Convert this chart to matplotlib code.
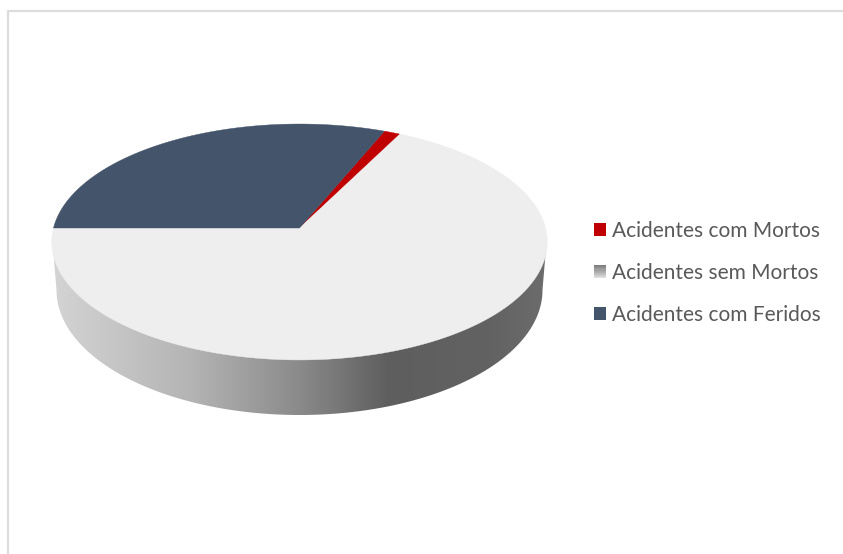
import numpy as np
import matplotlib
matplotlib.use("Agg")
import matplotlib.pyplot as plt
from matplotlib.colors import LinearSegmentedColormap
from matplotlib.legend_handler import HandlerPatch
from matplotlib.patches import Patch, Polygon, Rectangle

plt.rcParams["font.family"] = ["Lato", "DejaVu Sans"]

# Share of accidents by outcome (percent), clockwise from the first slice
categories = ["Acidentes com Mortos", "Acidentes sem Mortos", "Acidentes com Feridos"]
shares = [1.2, 67.55, 31.25]
first_slice_angle = 22.5

top_colors = ["#c00000", "#eeeeee", "#44546a"]
legend_colors = ["#c00000", "#8c8c8c", "#44546a"]
wall_stops = [(0.0, "#d4d4d4"), (0.28, "#b4b4b4"), (0.5, "#8a8a8a"),
              (0.68, "#5e5e5e"), (0.88, "#626262"), (1.0, "#6c6c6c")]

# Perspective of the disc: apex position, radii and foreshortening
APEX_X, APEX_Y = 299.5, 228.0
RADIUS_X, RADIUS_Y, TILT = 246.0, 116.3, 0.1186
# Lower rim of the side wall, as a plain ellipse
RIM_X, RIM_Y, RIM_RX, RIM_RY = 299.5, 290.0, 243.0, 125.0


def project(theta_deg):
    """Map clockwise-from-north angles on the unit circle to the tilted disc."""
    t = np.radians(np.asarray(theta_deg, dtype=float))
    x, y = np.sin(t), np.cos(t)
    d = 1 + TILT * y
    return APEX_X + RADIUS_X * x / d, APEX_Y - RADIUS_Y * y / d


class GradientSwatch(HandlerPatch):
    """Legend key shaded from dark at the top to light at the bottom."""

    def create_artists(self, legend, orig_handle, xdescent, ydescent,
                       width, height, fontsize, trans):
        steps = 12
        shade = LinearSegmentedColormap.from_list("key", ["#7c7c7c", "#dedede"])
        out = []
        for i in range(steps):
            out.append(Rectangle((-xdescent, -ydescent + height * (steps - 1 - i) / steps),
                                 width, height / steps * 1.05,
                                 facecolor=shade(i / (steps - 1)), edgecolor="none",
                                 transform=trans))
        return out


fig = plt.figure(figsize=(8.43, 5.54), dpi=100)
ax = fig.add_axes([0, 0, 1, 1])

# Side wall: horizontal gradient clipped to the band under the disc
wall_cmap = LinearSegmentedColormap.from_list("wall", wall_stops)
rim = np.radians(np.linspace(180, 360, 240))
rim_x = RIM_X + RIM_RX * np.cos(rim)
rim_y = RIM_Y - RIM_RY * np.sin(rim)
wall_outline = np.vstack([[[APEX_X - 247, 242]], np.column_stack([rim_x, rim_y]),
                          [[APEX_X + 247, 242]]])
wall_clip = Polygon(wall_outline, closed=True, transform=ax.transData,
                    facecolor="none", edgecolor="none")
ax.add_patch(wall_clip)
image = ax.imshow(np.linspace(0, 1, 512)[None, :], cmap=wall_cmap, aspect="auto",
                  extent=(APEX_X - 248, APEX_X + 248, 420, 240), zorder=1)
image.set_clip_path(wall_clip)

# Top of the disc, one polygon per slice
start = first_slice_angle
for share, color in zip(shares, top_colors):
    sweep = share * 3.6
    px, py = project(np.linspace(start, start + sweep, 300))
    ax.add_patch(Polygon(np.vstack([[APEX_X, APEX_Y], np.column_stack([px, py])]),
                         closed=True, facecolor=color, edgecolor=color,
                         linewidth=0.3, zorder=2))
    start += sweep

# Faint frame along the top and left edges
ax.plot([7.5, 7.5, 843], [554, 10.5, 10.5], color="#dcdcdc", linewidth=1.6, zorder=0)

ax.set_xlim(0, 843)
ax.set_ylim(554, 0)
ax.axis("off")

handles = [Patch(facecolor=c, edgecolor="none") for c in legend_colors]
ax.legend(handles, categories, loc="center left", bbox_to_anchor=(594, 273),
          bbox_transform=ax.transData, frameon=False, fontsize=15.0,
          labelcolor="#595959", handlelength=0.58, handleheight=0.58,
          handletextpad=0.28, labelspacing=1.066, borderpad=0, borderaxespad=0,
          handler_map={handles[1]: GradientSwatch()})

fig.savefig("out.png", dpi=100)
